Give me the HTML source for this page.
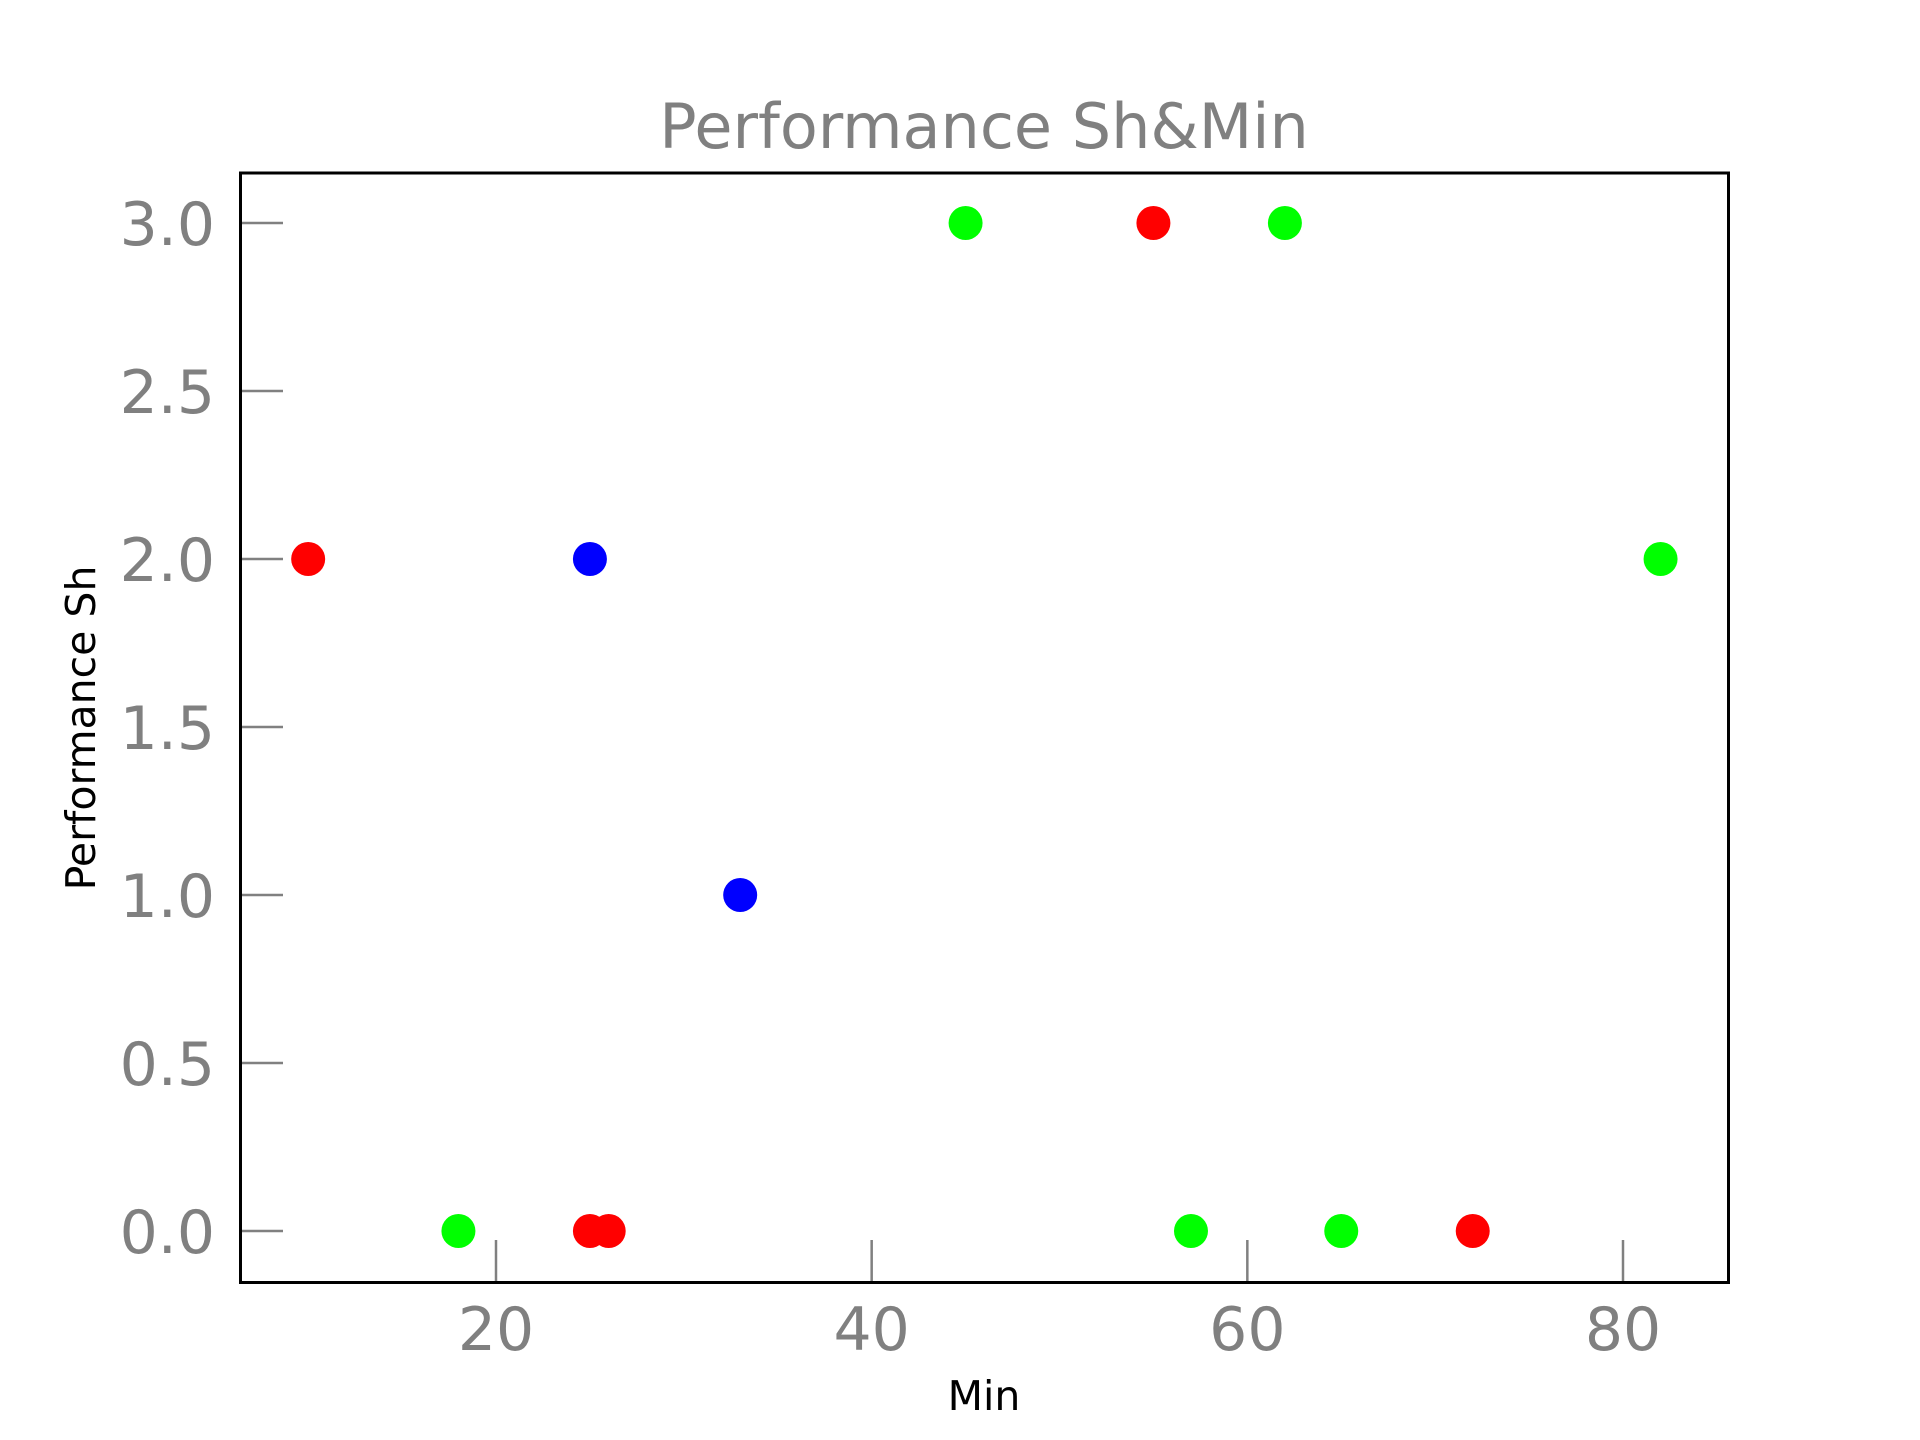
<!DOCTYPE html>
<html><head><meta charset="utf-8"><style>
html,body{margin:0;padding:0;background:#fff;}
svg{display:block;font-family:"DejaVu Sans","Liberation Sans",sans-serif;}
</style></head><body>
<svg id="chart" width="1920" height="1440" viewBox="0 0 1920 1440">
<rect width="1920" height="1440" fill="#fff"/>
<text x="984" y="148" font-size="62" fill="#808080" text-anchor="middle">Performance Sh&amp;Min</text>
<g id="ticks"></g>
<g id="points"></g>
<rect x="240.5" y="173" width="1488" height="1109.5" fill="none" stroke="#000" stroke-width="3"/>
<text x="984" y="1410" font-size="41" fill="#000" text-anchor="middle">Min</text>
<text transform="translate(95,728) rotate(-90)" font-size="41" fill="#000" text-anchor="middle">Performance Sh</text>
</svg>
<script>
const xs = [10, 25, 26, 55, 72, 18, 45, 62, 57, 65, 82, 25, 33];
const ys = [2, 0, 0, 3, 0, 0, 3, 3, 0, 0, 2, 2, 1];
const colors = ['#ff0000','#ff0000','#ff0000','#ff0000','#ff0000','#00ff00','#00ff00','#00ff00','#00ff00','#00ff00','#00ff00','#0000ff','#0000ff'];
const xTicks = [20, 40, 60, 80];
const yTicks = [0, 0.5, 1, 1.5, 2, 2.5, 3];
const yTickLabels = ['0.0','0.5','1.0','1.5','2.0','2.5','3.0'];

const NS='http://www.w3.org/2000/svg';
function xScale(v){return 496 + (v-20)*(1623-496)/60;}
function yScale(v){return 1231 - v*(1231-223)/3;}
const tg=document.getElementById('ticks'), pg=document.getElementById('points');
function mk(tag,attrs,parent){const e=document.createElementNS(NS,tag);for(const k in attrs)e.setAttribute(k,attrs[k]);parent.appendChild(e);return e;}
yTicks.forEach((t,i)=>{
  const y=yScale(t);
  const l=mk('line',{x1:240,x2:283,y1:y,y2:y,stroke:'#808080','stroke-width':2.5},tg);
  
  
  const tx=mk('text',{x:215,y:y+22,'font-size':60,fill:'#808080','text-anchor':'end'},tg);
  tx.textContent=yTickLabels[i];
  
  
});
xTicks.forEach(t=>{
  const x=xScale(t);
  const l=mk('line',{x1:x,x2:x,y1:1282,y2:1240,stroke:'#808080','stroke-width':2.5},tg);
  
  
  const tx=mk('text',{x:x,y:1350,'font-size':60,fill:'#808080','text-anchor':'middle'},tg);
  tx.textContent=String(t);
  
  
});
xs.forEach((v,i)=>{
  const c=mk('circle',{cx:xScale(v),cy:yScale(ys[i]),r:17,fill:colors[i]},pg);
  
  
});
</script>
</body></html>
